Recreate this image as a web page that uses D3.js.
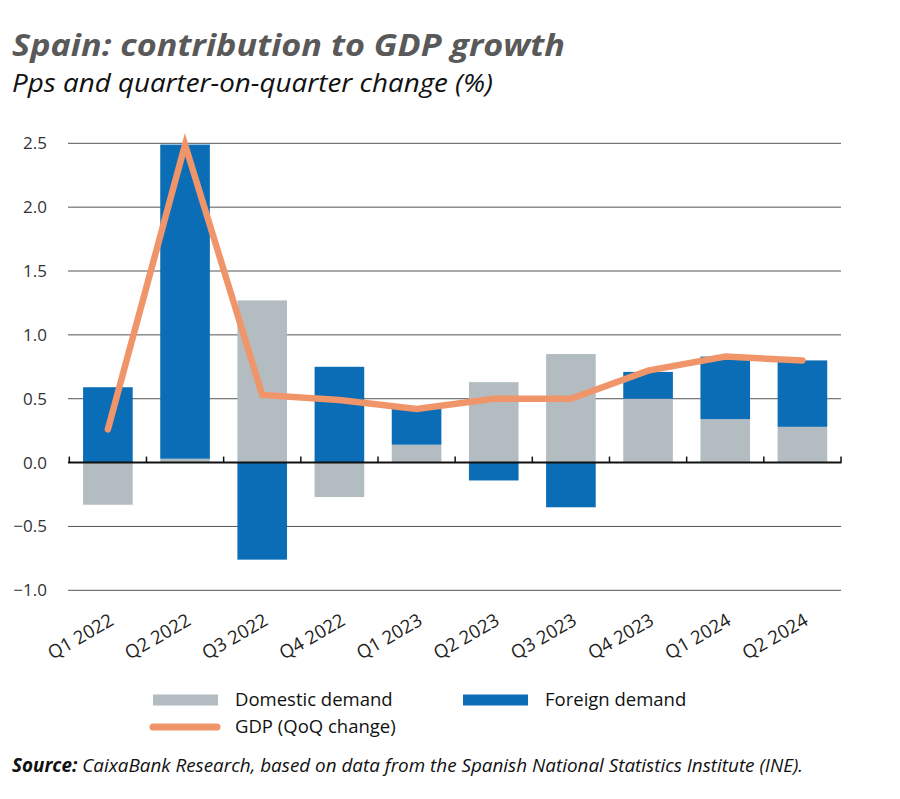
<!DOCTYPE html>
<html>
<head>
<meta charset="utf-8">
<script src="https://cdn.jsdelivr.net/npm/d3@7"></script>
<style>
  html, body { margin: 0; padding: 0; background: #fff; }
  svg { display: block; }
  text { font-family: "Open Sans", "Noto Sans", sans-serif; }
</style>
</head>
<body>
<svg id="chart" width="900" height="799"></svg>
<script>
// ---- data ----
const categories = ["Q1 2022","Q2 2022","Q3 2022","Q4 2022","Q1 2023","Q2 2023","Q3 2023","Q4 2023","Q1 2024","Q2 2024"];
const domesticDemand = [-0.33, 0.03, 1.27, -0.27, 0.14, 0.63, 0.85, 0.50, 0.34, 0.28];
const foreignDemand  = [0.59, 2.46, -0.76, 0.75, 0.28, -0.14, -0.35, 0.21, 0.49, 0.52];
const gdpQoQ         = [0.26, 2.49, 0.53, 0.49, 0.42, 0.50, 0.50, 0.72, 0.83, 0.80];
const yTicks = [-1.0, -0.5, 0.0, 0.5, 1.0, 1.5, 2.0, 2.5];
const seriesNames = ["Domestic demand", "Foreign demand"];
const lineName = "GDP (QoQ change)";

const colors = { dom: "#b3bdc1", for: "#0a6db5", gdp: "#f0956a" };

const svg = d3.select("#chart");

// ---- titles ----
function fitText(sel, w) {
  sel.attr("textLength", w).attr("lengthAdjust", "spacingAndGlyphs");
}
svg.append("text").attr("x", 12).attr("y", 56)
  .attr("font-size", 31).attr("font-weight", 700).attr("font-style", "italic")
  .attr("fill", "#595959").text("Spain: contribution to GDP growth")
  .call(fitText, 553);
svg.append("text").attr("x", 12).attr("y", 92)
  .attr("font-size", 26).attr("font-style", "italic")
  .attr("fill", "#111").text("Pps and quarter-on-quarter change (%)")
  .call(fitText, 481);

// ---- scales ----
const x = d3.scaleBand().domain(categories).range([69.3, 841])
  .paddingInner(0.357).paddingOuter(0.1785);
const y = d3.scaleLinear().domain([-1, 2.5]).range([590.3, 143.3]);

// ---- gridlines ----
const g = svg.append("g");
g.selectAll("line.grid").data(yTicks.filter(t => t !== 0)).join("line")
  .attr("class", "grid")
  .attr("x1", 68).attr("x2", 841)
  .attr("y1", d => y(d)).attr("y2", d => y(d))
  .attr("stroke", "#555").attr("stroke-width", 1);

// y labels
g.selectAll("text.yl").data(yTicks).join("text")
  .attr("class", "yl")
  .attr("x", 47).attr("y", d => y(d) + 6)
  .attr("text-anchor", "end").attr("font-size", 17).attr("fill", "#333")
  .text(d => d3.format(".1f")(d));

// ---- stacked bars ----
const rows = categories.map((c, i) => ({ cat: c, dom: domesticDemand[i], for: foreignDemand[i] }));
const stack = d3.stack().keys(["dom", "for"]).offset(d3.stackOffsetDiverging);
const stacked = stack(rows);

svg.append("g").selectAll("g").data(stacked).join("g")
  .attr("fill", d => colors[d.key])
  .selectAll("rect").data(d => d).join("rect")
  .attr("x", d => x(d.data.cat))
  .attr("width", x.bandwidth())
  .attr("y", d => y(Math.max(d[0], d[1])))
  .attr("height", d => Math.abs(y(d[0]) - y(d[1])));

// ---- zero axis with ticks ----
const axisG = svg.append("g");
axisG.append("line").attr("x1", 68).attr("x2", 841.5)
  .attr("y1", y(0)).attr("y2", y(0)).attr("stroke", "#111").attr("stroke-width", 2);
const boundaries = categories.map(c => x(c) - x.step() * x.paddingInner() / 2).concat([841]);
axisG.selectAll("line.tk").data(boundaries).join("line")
  .attr("class", "tk")
  .attr("x1", d => d).attr("x2", d => d)
  .attr("y1", y(0)).attr("y2", y(0) - 6)
  .attr("stroke", "#111").attr("stroke-width", 1.5);

// x labels
axisG.selectAll("text.xl").data(categories).join("text")
  .attr("class", "xl")
  .attr("text-anchor", "end").attr("font-size", 18.5).attr("fill", "#222")
  .attr("transform", d => `translate(${x(d) + x.bandwidth() / 2 + 7},${624}) rotate(-30)`)
  .text(d => d);

// ---- GDP line ----
const line = d3.line().x((d, i) => x(categories[i]) + x.bandwidth() / 2).y(d => y(d));
svg.append("path").datum(gdpQoQ)
  .attr("d", line)
  .attr("fill", "none").attr("stroke", colors.gdp).attr("stroke-width", 6.5)
  .attr("stroke-linecap", "round").attr("stroke-linejoin", "miter");

// ---- legend ----
const leg = svg.append("g");
const legItems = [
  { name: seriesNames[0], type: "rect", color: colors.dom, x: 153, y: 700 },
  { name: seriesNames[1], type: "rect", color: colors.for, x: 463, y: 700 },
  { name: lineName, type: "line", color: colors.gdp, x: 153, y: 727 }
];
legItems.forEach(it => {
  if (it.type === "rect") {
    leg.append("rect").attr("x", it.x).attr("y", it.y - 5.5).attr("width", 65).attr("height", 11).attr("fill", it.color);
  } else {
    leg.append("line").attr("x1", it.x).attr("x2", it.x + 64).attr("y1", it.y).attr("y2", it.y)
      .attr("stroke", it.color).attr("stroke-width", 7).attr("stroke-linecap", "round");
  }
  leg.append("text").attr("x", it.x + 82).attr("y", it.y + 6)
    .attr("font-size", 18.5).attr("fill", "#111").text(it.name);
});

// ---- source ----
const src = svg.append("text").attr("x", 12).attr("y", 772).attr("font-size", 19)
  .attr("font-style", "italic").attr("fill", "#111");
src.append("tspan").attr("font-weight", 700).text("Source:");
src.append("tspan").text(" CaixaBank Research, based on data from the Spanish National Statistics Institute (INE).");
src.call(fitText, 791);
</script>
</body>
</html>
